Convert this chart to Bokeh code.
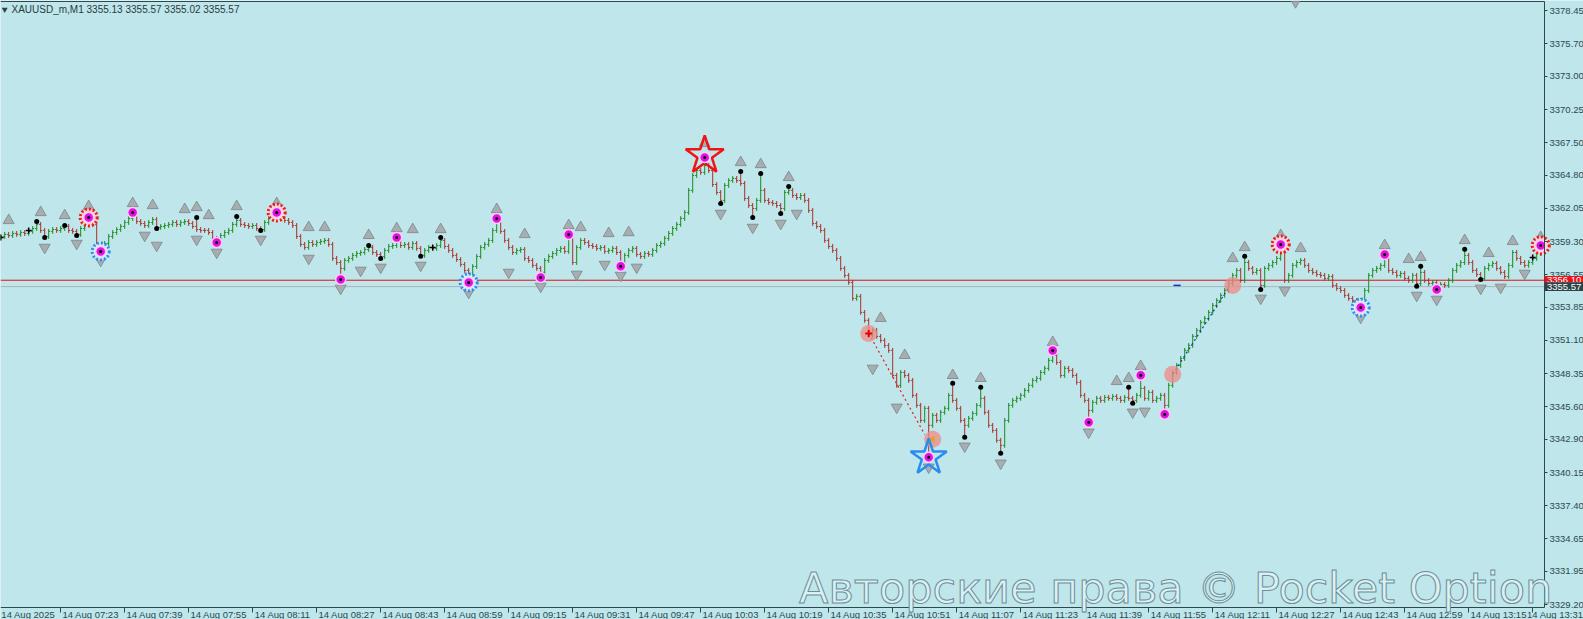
from bokeh.plotting import figure
from bokeh.models import Range1d, FixedTicker, PrintfTickFormatter, LinearAxis, ColumnDataSource
from bokeh.core.properties import value
from bokeh.embed import file_html
from bokeh.resources import INLINE

# ---------------- data (XAUUSD_m, M1, 14 Aug 2025, first bar 07:08) ----------------
close = [
    3359.73, 3359.90, 3359.81, 3359.98, 3359.90, 3360.06, 3359.98, 3360.15, 3360.39, 3360.73,
    3360.23, 3359.73, 3360.15, 3360.31, 3360.23, 3360.39, 3360.56, 3360.23, 3360.15, 3359.90,
    3360.39, 3360.89, 3361.14, 3360.73, 3358.98, 3358.82, 3359.15, 3359.73, 3360.06, 3360.31,
    3360.56, 3360.89, 3361.22, 3361.47, 3360.97, 3360.81, 3360.64, 3360.89, 3361.14, 3360.48,
    3360.56, 3360.64, 3360.73, 3360.89, 3360.73, 3360.89, 3360.97, 3360.81, 3360.56, 3360.31,
    3360.23, 3360.23, 3360.06, 3359.57, 3359.32, 3359.81, 3360.06, 3360.23, 3360.73, 3361.06,
    3360.73, 3360.64, 3360.56, 3360.64, 3360.39, 3360.31, 3360.89, 3361.22, 3361.39, 3361.55,
    3361.22, 3361.06, 3360.89, 3360.64, 3359.73, 3359.07, 3358.82, 3359.23, 3359.07, 3359.23,
    3359.32, 3359.40, 3359.07, 3357.91, 3357.57, 3357.08, 3357.74, 3357.91, 3358.16, 3358.32,
    3358.40, 3358.65, 3358.82, 3358.40, 3358.24, 3358.07, 3358.57, 3358.90, 3358.98, 3359.40,
    3358.98, 3359.07, 3358.82, 3359.15, 3358.74, 3358.16, 3358.57, 3358.82, 3358.74, 3358.98,
    3359.40, 3358.90, 3358.57, 3358.16, 3357.82, 3357.41, 3356.91, 3356.50, 3357.24, 3358.07,
    3358.82, 3359.07, 3359.40, 3360.23, 3360.89, 3360.15, 3359.40, 3358.82, 3358.40, 3358.57,
    3358.65, 3357.91, 3357.74, 3357.33, 3357.08, 3356.75, 3357.74, 3358.07, 3358.32, 3358.57,
    3358.74, 3358.49, 3359.57, 3357.57, 3358.82, 3359.40, 3359.23, 3358.98, 3358.90, 3358.74,
    3358.82, 3358.49, 3358.57, 3358.74, 3358.40, 3357.57, 3358.16, 3358.57, 3358.74, 3358.24,
    3358.07, 3358.32, 3358.24, 3358.57, 3358.98, 3359.15, 3359.57, 3359.98, 3360.39, 3360.73,
    3361.22, 3361.72, 3363.55, 3364.79, 3365.20, 3365.04, 3365.62, 3365.20, 3364.04, 3363.38,
    3362.72, 3363.96, 3364.37, 3364.54, 3364.37, 3364.13, 3362.88, 3362.30, 3362.05, 3362.72,
    3363.55, 3362.72, 3362.55, 3362.47, 3362.30, 3362.05, 3363.38, 3363.55, 3363.13, 3362.96,
    3363.13, 3362.72, 3361.89, 3360.81, 3360.56, 3360.23, 3359.40, 3358.90, 3358.57, 3357.91,
    3357.08, 3356.50, 3355.92, 3354.59, 3354.76, 3353.43, 3352.77, 3351.52, 3351.94, 3351.44,
    3351.11, 3350.69, 3350.28, 3348.20, 3347.38, 3348.45, 3348.20, 3347.79, 3346.55, 3345.72,
    3344.47, 3345.47, 3344.06, 3344.89, 3344.47, 3345.14, 3345.47, 3346.55, 3346.13, 3345.47,
    3344.47, 3344.06, 3344.64, 3345.05, 3345.72, 3346.30, 3345.14, 3344.06, 3343.64, 3342.82,
    3342.40, 3344.47, 3345.72, 3346.13, 3346.30, 3346.55, 3346.96, 3347.38, 3347.79, 3347.96,
    3348.45, 3348.79, 3349.45, 3349.86, 3349.28, 3348.20, 3348.79, 3348.62, 3348.20, 3347.63,
    3346.55, 3346.13, 3345.30, 3345.97, 3346.30, 3346.13, 3346.38, 3346.30, 3346.46, 3346.30,
    3346.13, 3346.38, 3346.30, 3346.13, 3346.55, 3347.13, 3346.30, 3346.80, 3346.13, 3346.30,
    3346.55, 3345.72, 3347.38, 3348.45, 3349.03, 3349.61, 3350.28, 3350.69, 3351.44, 3351.94,
    3352.60, 3352.93, 3353.43, 3354.01, 3354.42, 3354.84, 3355.25, 3355.83, 3356.50, 3356.91,
    3356.08, 3357.57, 3357.08, 3356.75, 3356.91, 3355.67, 3357.08, 3357.33, 3357.57, 3357.91,
    3358.40, 3356.08, 3356.50, 3357.33, 3357.57, 3357.74, 3357.33, 3356.91, 3356.75, 3356.58,
    3356.50, 3356.25, 3356.41, 3355.67, 3355.42, 3355.25, 3354.84, 3354.59, 3354.42, 3354.26,
    3354.42, 3355.25, 3356.50, 3356.91, 3357.08, 3357.33, 3357.91, 3356.91, 3356.75, 3356.50,
    3356.66, 3356.25, 3356.08, 3356.50, 3355.83, 3356.75, 3356.08, 3355.83, 3355.92, 3355.50,
    3355.75, 3355.67, 3356.08, 3356.91, 3357.33, 3357.57, 3358.16, 3357.57, 3356.91, 3356.58,
    3356.25, 3357.08, 3357.33, 3357.49, 3357.08, 3356.75, 3356.41, 3357.33, 3358.40, 3357.91,
    3357.57, 3357.33, 3357.57, 3357.91, 3358.32, 3358.57,
]
first_open = 3359.60

# bar extremes (where the wick clearly sticks out)
high_marks = {9: 3360.98, 16: 3360.64, 22: 3361.39, 33: 3361.80, 49: 3361.31, 59: 3361.39,
              69: 3361.80, 92: 3358.99, 99: 3359.73, 110: 3359.65, 124: 3361.31, 142: 3359.98,
              176: 3366.45, 185: 3365.12, 190: 3364.96, 197: 3363.88, 238: 3347.55, 245: 3347.22,
              263: 3350.36, 282: 3347.22, 285: 3348.29, 311: 3358.08, 320: 3359.15, 346: 3358.32,
              355: 3357.25, 366: 3358.66, 385: 3359.07}
low_marks = {11: 3359.65, 19: 3359.82, 25: 3358.49, 39: 3360.39, 54: 3359.15, 65: 3360.23,
             85: 3356.08, 95: 3357.91, 105: 3358.08, 117: 3355.92, 135: 3356.33, 155: 3357.24,
             180: 3362.47, 188: 3361.31, 195: 3361.64, 232: 3341.41, 241: 3343.07, 250: 3341.74,
             272: 3344.31, 283: 3345.89, 291: 3344.98, 315: 3355.34, 340: 3353.84, 354: 3355.59,
             359: 3355.34, 370: 3356.17}

# fractal arrows (bar index, price)
up_fr_bar = [2, 10, 16, 22, 33, 38, 46, 49, 52, 59, 69, 77, 81, 92, 99, 103, 110, 124, 131, 142,
             145, 152, 157, 176, 185, 190, 197, 220, 226, 238, 245, 263, 279, 282, 285, 308, 311,
             320, 325, 346, 352, 355, 366, 372, 378, 385]
up_fr_price = [3361.06, 3361.72, 3361.47, 3362.22, 3362.47, 3362.30, 3361.97, 3362.14, 3361.47,
               3362.22, 3362.47, 3360.48, 3360.48, 3359.82, 3360.39, 3360.31, 3360.31, 3361.97,
               3359.90, 3360.64, 3360.48, 3359.98, 3360.06, 3367.45, 3365.87, 3365.70, 3364.63,
               3352.94, 3349.87, 3348.21, 3347.96, 3350.95, 3347.71, 3347.96, 3348.96, 3357.91,
               3358.82, 3359.82, 3358.74, 3358.99, 3357.83, 3358.00, 3359.40, 3358.33, 3359.32,
               3359.65]
dn_fr_bar = [11, 19, 25, 36, 39, 49, 54, 65, 77, 85, 90, 95, 105, 117, 127, 135, 144, 151, 155,
             159, 180, 188, 195, 199, 218, 224, 232, 241, 250, 272, 283, 286, 315, 321, 340, 354,
             359, 370, 375, 381]
dn_fr_price = [3358.82, 3359.15, 3357.74, 3359.82, 3358.99, 3359.49, 3358.41, 3359.49, 3357.91,
               3355.43, 3356.92, 3357.17, 3357.33, 3355.09, 3356.75, 3355.59, 3356.59, 3357.41,
               3356.50, 3357.17, 3361.64, 3360.48, 3360.81, 3361.64, 3348.79, 3345.56, 3340.59,
               3342.33, 3340.92, 3343.49, 3345.15, 3345.23, 3354.60, 3355.26, 3353.02, 3354.84,
               3354.51, 3355.43, 3355.51, 3356.67]

# black swing dots
dot_bar = [9, 11, 16, 19, 39, 49, 59, 65, 92, 95, 105, 110, 180, 185, 188, 190, 195, 197, 238,
           241, 245, 250, 282, 283, 311, 315, 354, 355, 366, 370]
dot_price = [3360.98, 3359.65, 3360.64, 3359.82, 3360.39, 3361.31, 3361.39, 3360.23, 3358.99,
             3357.91, 3358.08, 3359.65, 3362.47, 3365.12, 3361.31, 3364.96, 3361.64, 3363.88,
             3347.55, 3343.07, 3347.22, 3341.74, 3347.22, 3345.89, 3358.08, 3355.34, 3355.59,
             3357.25, 3358.66, 3356.17]

# small black crosses
cross_bar = [0, 7, 108, 383]
cross_price = [3359.65, 3360.23, 3358.82, 3357.99]

# magenta pivot dots
mag_bar = [33, 54, 85, 99, 124, 135, 142, 155, 263, 272, 285, 291, 346, 359,
           22, 25, 69, 117, 320, 340, 385, 176, 232]
mag_price = [3361.72, 3359.23, 3356.17, 3359.65, 3361.22, 3356.33, 3359.90, 3357.25, 3350.28,
             3344.31, 3348.21, 3344.98, 3358.24, 3355.34,
             3361.31, 3358.49, 3361.72, 3355.92, 3359.07, 3353.84, 3358.99, 3366.28, 3341.41]

red_gear_bar = [22, 69, 320, 385]
red_gear_price = [3361.31, 3361.72, 3359.07, 3358.99]
blue_gear_bar = [25, 117, 340]
blue_gear_price = [3358.49, 3355.92, 3353.84]

red_star_bar = [176]
red_star_price = [3366.45]
blue_star_bar = [232]
blue_star_price = [3341.41]

pink_bar = [217, 233, 293, 308]
pink_price = [3351.69, 3342.90, 3348.29, 3355.67]

red_dash_bar = [217, 231]
red_dash_price = [3351.69, 3343.30]
blue_dash_bar = [293, 307]
blue_dash_price = [3348.29, 3355.50]

ask_line = 3356.10
bid_price = 3355.57
ask_text = "3356.10"
bid_text = "3355.57"

y_ticks = [3378.45, 3375.70, 3373.00, 3370.25, 3367.50, 3364.80, 3362.05, 3359.30, 3356.55,
           3353.85, 3351.10, 3348.35, 3345.60, 3342.90, 3340.15, 3337.40, 3334.65, 3331.95,
           3329.20]
x_tick_bars = [15, 31, 47, 63, 79, 95, 111, 127, 143, 159, 175, 191, 207, 223, 239, 255, 271,
               287, 303, 319, 335, 351, 367, 383]
x_tick_labels = ["14 Aug 07:23", "14 Aug 07:39", "14 Aug 07:55", "14 Aug 08:11", "14 Aug 08:27",
                 "14 Aug 08:43", "14 Aug 08:59", "14 Aug 09:15", "14 Aug 09:31", "14 Aug 09:47",
                 "14 Aug 10:03", "14 Aug 10:19", "14 Aug 10:35", "14 Aug 10:51", "14 Aug 11:07",
                 "14 Aug 11:23", "14 Aug 11:39", "14 Aug 11:55", "14 Aug 12:11", "14 Aug 12:27",
                 "14 Aug 12:43", "14 Aug 12:59", "14 Aug 13:15", "14 Aug 13:31"]
first_date_label = "14 Aug 2025"
header_text = "XAUUSD_m,M1  3355.13 3355.57 3355.02 3355.57"
watermark = "Авторские права © Pocket Option"

# ---------------- build OHLC ----------------
n = len(close)
opens = [first_open] + close[:-1]
WICK = 0.2
highs, lows = [], []
for i in range(n):
    hi = max(opens[i], close[i]) + WICK
    lo = min(opens[i], close[i]) - WICK
    if i in high_marks:
        hi = max(high_marks[i], max(opens[i], close[i]))
    if i in low_marks:
        lo = min(low_marks[i], min(opens[i], close[i]))
    highs.append(hi)
    lows.append(lo)

BULL = "#1c8c1c"
BEAR = "#a8302a"
xs = list(range(n))
colors = [BULL if close[i] > opens[i] else BEAR for i in range(n)]
src = ColumnDataSource(dict(
    x=xs, xl=[i - 0.38 for i in xs], xr=[i + 0.38 for i in xs],
    o=opens, h=highs, l=lows, c=close, col=colors))

BG = "#bee6eb"
AX = "#2b4a4e"
FONT = "Liberation Sans"

# plot area edges (bar units / price units); 4 px per bar, ~12.06 px per price unit
X0, X1 = -0.05, 385.95          # price-area left/right (right = price axis line)
XMAX = 395.70                   # canvas right edge
Y0, Y1 = 3328.95, 3379.22       # price-area bottom (time axis) / top border
YMIN, YMAX = 3327.956, 3379.304 # canvas bottom / top edges

p = figure(frame_width=1583, frame_height=619,
           x_range=Range1d(X0, XMAX), y_range=Range1d(YMIN, YMAX),
           x_axis_location=None, y_axis_location=None,
           output_backend="svg", toolbar_location=None,
           background_fill_color=BG, border_fill_color=BG, min_border=0)
p.grid.visible = False
p.outline_line_color = None

# right price axis (at the right end of the price area)
ya = LinearAxis(fixed_location=X1, ticker=FixedTicker(ticks=y_ticks),
                formatter=PrintfTickFormatter(format="%.2f"), bounds=(Y0, Y1))
ya.major_tick_in = 0
ya.major_tick_out = 3
ya.minor_tick_line_color = None
ya.axis_line_color = AX
ya.major_tick_line_color = AX
ya.major_label_text_color = AX
ya.major_label_text_font = FONT
ya.major_label_text_font_size = "9.5px"
ya.major_label_standoff = 2
p.add_layout(ya, "right")

# bottom time axis: tick marks
xa = LinearAxis(fixed_location=Y0, ticker=FixedTicker(ticks=x_tick_bars), bounds=(X0, X1))
xa.major_label_overrides = {t: "" for t in x_tick_bars}
xa.major_label_text_font_size = "0px"
xa.major_tick_in = 0
xa.major_tick_out = 5
xa.minor_tick_line_color = None
xa.axis_line_color = AX
xa.major_tick_line_color = AX
p.add_layout(xa, "below")

# bottom time axis: labels written just right of each tick
lab_pos = [6.9] + [b + 7.5 for b in x_tick_bars]
lab_txt = [first_date_label] + x_tick_labels
xl = LinearAxis(fixed_location=Y0, ticker=FixedTicker(ticks=lab_pos))
xl.major_label_overrides = {pos: t for pos, t in zip(lab_pos, lab_txt)}
xl.axis_line_color = None
xl.major_tick_line_color = None
xl.minor_tick_line_color = None
xl.major_tick_out = 0
xl.major_tick_in = 0
xl.major_label_standoff = 1
xl.major_label_text_color = AX
xl.major_label_text_font = FONT
xl.major_label_text_font_size = "9.5px"
p.add_layout(xl, "below")

# top border of the price area
p.segment(x0=[X0], y0=[Y1], x1=[X1], y1=[Y1], line_color=AX, line_width=1)

# price lines
p.segment(x0=[X0], y0=[bid_price], x1=[X1], y1=[bid_price], line_color="#a9b7bb", line_width=1)
p.segment(x0=[X0], y0=[ask_line], x1=[X1], y1=[ask_line], line_color="#e01010", line_width=1)

# OHLC bars
p.segment(x0="x", y0="l", x1="x", y1="h", color="col", line_width=1, source=src)
p.segment(x0="xl", y0="o", x1="x", y1="o", color="col", line_width=1, source=src)
p.segment(x0="x", y0="c", x1="xr", y1="c", color="col", line_width=1, source=src)

# dashed trend lines
p.line(red_dash_bar, red_dash_price, line_color="#e02020", line_width=1.2, line_dash="2 3")
p.line(blue_dash_bar, blue_dash_price, line_color="#1030c0", line_width=1.2, line_dash="2 3")
p.segment(x0=[293.2], y0=[3355.67], x1=[295.0], y1=[3355.67], line_color="#1030c0", line_width=1.5)

# pink circles
p.scatter(pink_bar, pink_price, marker="circle", size=17, fill_color="#f08a86",
          fill_alpha=0.75, line_color=None)
p.scatter([217], [3351.69], marker="cross", size=7, line_color="#e00000", line_width=2)
p.scatter([233], [3342.90], marker="triangle", angle=1.5708, size=7,
          fill_color="#e8a020", line_color=None)

# fractal arrows
p.scatter(up_fr_bar, up_fr_price, marker="triangle", size=11, fill_color="#a7aeb2",
          line_color="#7c8488", line_width=0.8)
p.scatter(dn_fr_bar, dn_fr_price, marker="inverted_triangle", size=11, fill_color="#a7aeb2",
          line_color="#7c8488", line_width=0.8)
p.scatter([323.7], [3379.05], marker="inverted_triangle", size=8, fill_color="#a7aeb2",
          line_color="#7c8488", line_width=0.8)

# gears
p.scatter(red_gear_bar, red_gear_price, marker="circle", size=17, fill_color="#ffd6d6",
          line_color="#ee1c1c", line_width=3, line_dash="2 2")
p.scatter(blue_gear_bar, blue_gear_price, marker="circle", size=17, fill_color="#d6ecff",
          line_color="#2f8ff0", line_width=3, line_dash="2 2")

# stars
p.scatter(red_star_bar, red_star_price, marker="star", size=40, fill_color=None,
          line_color="#f01414", line_width=2.5)
p.scatter(blue_star_bar, blue_star_price, marker="star", size=38, fill_color=None,
          line_color="#2a8cf0", line_width=2.5)

# magenta pivots
p.scatter(mag_bar, mag_price, marker="circle", size=10, fill_color="#e010e0",
          line_color="#ffc8ff", line_width=1.5)
p.scatter(mag_bar, mag_price, marker="circle", size=3, fill_color="black", line_color=None)

# black dots and crosses
p.scatter(dot_bar, dot_price, marker="circle", size=5, fill_color="black", line_color=None)
p.scatter(cross_bar, cross_price, marker="cross", size=6, line_color="black", line_width=1.5)

# header text
p.scatter([1.0], [3378.55], marker="inverted_triangle", size=6, fill_color="#333f42", line_color=None)
p.text([2.7], [3378.55], text=[header_text],
       text_font=value(FONT), text_font_size="10px", text_color="#2b3a3d",
       text_baseline="middle", text_align="left")

# price tags on the axis
p.quad(left=[X1], right=[XMAX], bottom=[ask_line - 0.36], top=[ask_line + 0.36],
       fill_color="#e8141c", line_color=None, level="overlay")
p.text([X1 + 0.6], [ask_line], text=[ask_text],
       text_font=value(FONT), text_font_size="9.5px", text_color="white",
       text_baseline="middle", text_align="left", level="overlay")
p.quad(left=[X1], right=[XMAX], bottom=[bid_price - 0.36], top=[bid_price + 0.36],
       fill_color="#2b4448", line_color=None, level="overlay")
p.text([X1 + 0.6], [bid_price], text=[bid_text],
       text_font=value(FONT), text_font_size="9.5px", text_color="white",
       text_baseline="middle", text_align="left", level="overlay")

# watermark
p.text([199.6], [3330.55], text=[watermark],
       text_font=value("DejaVu Sans"), text_font_size="43px", text_color="#d9f1f4",
       text_outline_color="#6e8e96", text_baseline="middle", text_align="left",
       level="overlay")

open("out.html", "w").write(file_html(p, INLINE))
